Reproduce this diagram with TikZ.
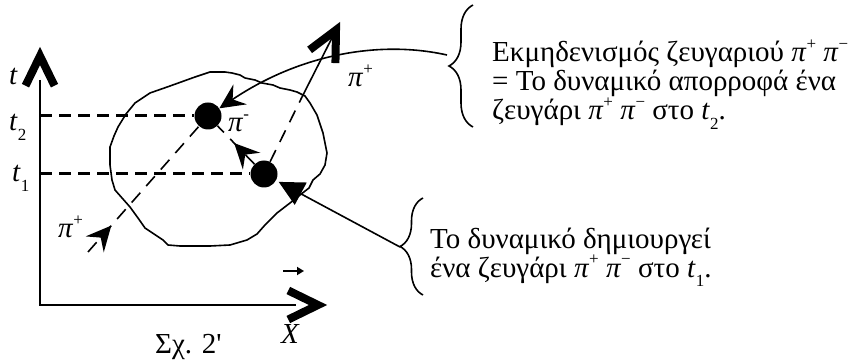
\documentclass[tikz,border=0pt]{standalone}
\usepackage{fontspec}
\setmainfont{Liberation Serif}
\usetikzlibrary{arrows.meta,decorations.pathreplacing,decorations.markings}
\newcommand\pp[1]{\textit{π}\smash{\raisebox{0.42em}{\fontsize{17}{17}\selectfont #1}}}
\newcommand\lsub[1]{\smash{\raisebox{-0.32em}{\fontsize{17}{17}\selectfont #1}}}
\begin{document}
\begin{tikzpicture}[x=1pt,y=-1pt,
  axis/.style={line width=2pt},
  tdash/.style={line width=3pt, dash pattern=on 12pt off 7pt},
  pdash/.style={line width=1.6pt, dash pattern=on 13pt off 9pt},
  ln/.style={line width=1.6pt},
  dot/.style={circle, fill=black, minimum size=27pt, inner sep=0pt},
  txt/.style={font=\fontsize{29}{29}\selectfont, inner sep=0pt, anchor=base west},
  stl/.tip={Stealth[length=25pt,width=24pt,inset=9pt]},
  midarrow/.style={postaction={decorate}, decoration={markings, mark=at position #1 with {\arrow{stl}}}},
  chev/.pic={\draw[line width=8pt, line join=miter, line cap=butt] (-29.7,-14.5) -- (0,0) -- (-29.7,14.5);},
]
\useasboundingbox (0,0) rectangle (856,363);

% blob (the potential)
\draw[ln, line join=round] (112,180) -- (110,165) -- (110,147) -- (114,136) -- (118,127) -- (126,114) -- (135,103) -- (150,93) -- (170,86) -- (195,77) -- (210,72) -- (225,72) -- (232,73) -- (240,75) -- (245,78) -- (255,80) -- (262,83) -- (273,85) -- (280,88) -- (290,90) -- (297,92) -- (305,96) -- (310,103) -- (317,115) -- (323,133) -- (327,153) -- (325,165) -- (320,174) -- (313,180) -- (309,188) -- (300,195) -- (290,203) -- (277,213) -- (265,225) -- (257,234) -- (247,240) -- (230,245) -- (210,246) -- (180,246) -- (168,245) -- (163,240) -- (145,228) -- (138,218) -- (130,207) -- (115,190) -- cycle;

% axes
\coordinate (O) at (40,305);
\coordinate (Ytop) at (40,80);
\coordinate (Xend) at (296,305);
\draw[axis] (Ytop) -- (O) -- (Xend);
\pic[rotate=90] at (40,56) {chev};
\pic at (318,305) {chev};

% events
\node[dot] (dU) at (208,116) {};
\node[dot] (dL) at (264,174) {};
\coordinate (a2) at (40,116);
\coordinate (a1) at (40,174);
\draw[tdash] (a2) -- (dU);
\draw[tdash] (a1) -- (dL);

% pion lines
\coordinate (pinS) at (88,252);
\draw[pdash, midarrow=0.21] (pinS) -- (dU);
\draw[pdash, midarrow=0.55] (dL) -- (dU);
\coordinate (cross) at (302,97);
\coordinate (chtip) at (336,30);
\draw[pdash] (dL) -- (cross);
\draw[ln] (cross) -- (chtip);
\pic[rotate=63] at (chtip) {chev};

% braces and connectors
\draw[ln, decorate, decoration={brace, amplitude=24pt}] (473,127) -- (473,5);
\draw[ln, decorate, decoration={brace, amplitude=23pt}] (423,295) -- (423,198);
\coordinate (cT) at (447,55);
\coordinate (bB) at (400,247);
\draw[ln, -stl] (cT) .. controls (380,40) and (300,54) .. (dU);
\draw[ln, -{Triangle[length=25pt,width=25pt]}, shorten >=3pt] (bB) -- (dL);

% vector arrow over X
\coordinate (va) at (283,271);
\coordinate (vb) at (304,271);
\draw[line width=1.8pt, -{Triangle[length=7pt,width=8pt]}] (va) -- (vb);

% labels
\node[txt] (tlab) at (9,85) {\textit{t}};
\node[txt] (t2lab) at (9,131) {\textit{t}\lsub{2}};
\node[txt] (t1lab) at (12,182) {\textit{t}\lsub{1}};
\node[txt] (xlab) at (281,343) {\textit{X}};
\node[txt] (fig) at (155,353) {Σχ. 2\textquotesingle};
\node[txt] (piTR) at (348,87) {\pp{+}};
\node[txt] (piM) at (228,132) {\pp{-}};
\node[txt] (piBL) at (58,238) {\pp{+}};

\node[txt] (A1) at (492,62) {Εκμηδενισμός ζευγαριού \pp{+} \pp{−}};
\node[txt] (A2) at (492,91) {= Το δυναμικό απορροφά ένα};
\node[txt] (A3) at (492,120) {ζευγάρι \pp{+} \pp{−} στο \textit{t}\lsub{2}.};
\node[txt] (B1) at (430,248) {Το δυναμικό δημιουργεί};
\node[txt] (B2) at (430,277) {ένα ζευγάρι \pp{+} \pp{−} στο \textit{t}\lsub{1}.};
\end{tikzpicture}
\end{document}
